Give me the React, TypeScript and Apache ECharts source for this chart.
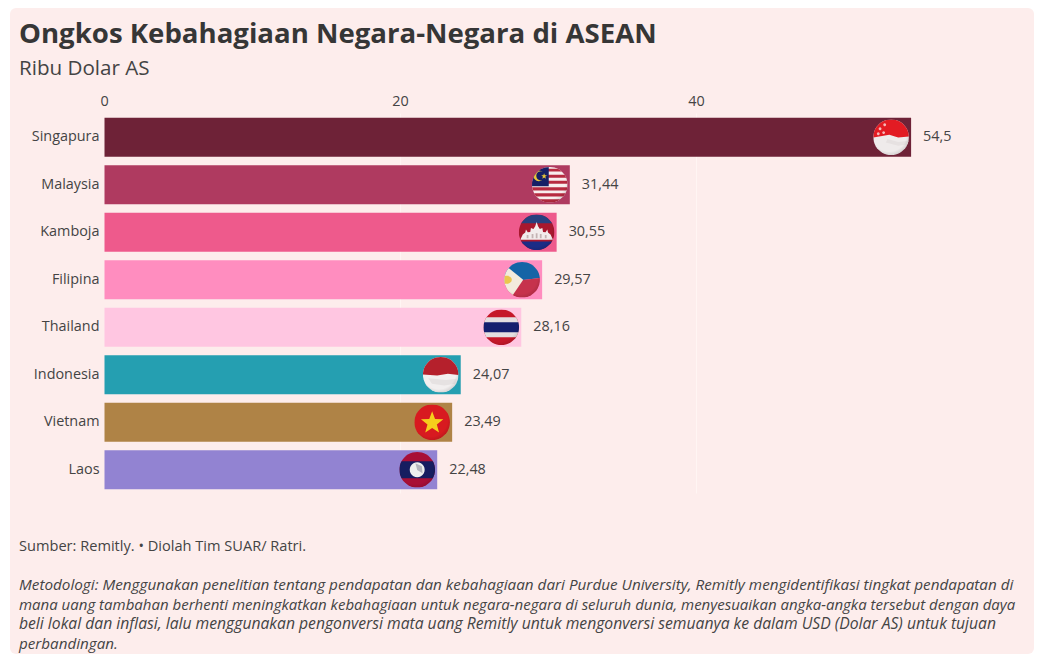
import React, { useEffect, useRef } from "react";
import * as echarts from "echarts";

const countries = ["Singapura", "Malaysia", "Kamboja", "Filipina", "Thailand", "Indonesia", "Vietnam", "Laos"];
const values = [54.5, 31.44, 30.55, 29.57, 28.16, 24.07, 23.49, 22.48];
const barColors = ["#6E2237", "#AF3A60", "#EE5A8C", "#FF8DBF", "#FFC6E1", "#259FB1", "#AF8346", "#9283D2"];
const titleText = "Ongkos Kebahagiaan Negara-Negara di ASEAN";
const subtitleText = "Ribu Dolar AS";
const sourceText = "Sumber: Remitly. • Diolah Tim SUAR/ Ratri.";
const methodLines = [
  "Metodologi: Menggunakan penelitian tentang pendapatan dan kebahagiaan dari Purdue University, Remitly mengidentifikasi tingkat pendapatan di",
  "mana uang tambahan berhenti meningkatkan kebahagiaan untuk negara-negara di seluruh dunia, menyesuaikan angka-angka tersebut dengan daya",
  "beli lokal dan inflasi, lalu menggunakan pengonversi mata uang Remitly untuk mengonversi semuanya ke dalam USD (Dolar AS) untuk tujuan",
  "perbandingan.",
];
const methodSizes = [15.28, 15.03, 15.7, 15.2];

const FONT = "'Open Sans', sans-serif";
const R = 17.8;

const rect = (x: number, y: number, w: number, h: number, fill: string) => ({
  type: "rect",
  shape: { x: x * R, y: y * R, width: w * R, height: h * R },
  style: { fill },
});
const poly = (pts: number[][], fill: string) => ({
  type: "polygon",
  shape: { points: pts.map(([a, b]) => [a * R, b * R]) },
  style: { fill },
});
const dot = (x: number, y: number, r: number, fill: string) => ({
  type: "circle",
  shape: { cx: x * R, cy: y * R, r: r * R },
  style: { fill },
});
const star = (x: number, y: number, r: number, fill: string) => {
  const pts: number[][] = [];
  for (let i = 0; i < 10; i++) {
    const a = -Math.PI / 2 + (i * Math.PI) / 5;
    const q = i % 2 === 0 ? r : r * 0.42;
    pts.push([x + q * Math.cos(a), y + q * Math.sin(a)]);
  }
  return poly(pts, fill);
};

const flags: Record<string, any[]> = {
  Singapura: [
    rect(-1, -1, 2, 2, "#EFEBEB"),
    poly([[-1, -1], [1, -1], [1, -0.04], [0.4, 0.02], [-0.1, -0.14], [-1, 0.02]], "#E31B23"),
    poly([[-0.2, 0.1], [0.4, 0.26], [1, 0.2], [1, 0.4], [0.4, 0.48], [-0.3, 0.3]], "#E6E1E1"),
    dot(-0.62, -0.48, 0.08, "#F6B8B8"),
    dot(-0.36, -0.7, 0.08, "#F6B8B8"),
    dot(-0.72, -0.2, 0.08, "#F6B8B8"),
    dot(-0.42, -0.26, 0.08, "#F6B8B8"),
  ],
  Malaysia: [
    rect(-1, -1, 2, 2, "#F8EEEE"),
    rect(-1, -0.9, 2, 0.16, "#B72A40"),
    rect(-1, -0.56, 2, 0.16, "#B72A40"),
    rect(-1, -0.22, 2, 0.16, "#B72A40"),
    rect(-1, 0.14, 2, 0.18, "#B72A40"),
    rect(-1, 0.48, 2, 0.18, "#B72A40"),
    rect(-1, 0.82, 2, 0.18, "#B72A40"),
    rect(-1, -1, 0.94, 1.08, "#161F66"),
    dot(-0.62, -0.5, 0.3, "#E8C63A"),
    dot(-0.5, -0.5, 0.26, "#161F66"),
    star(-0.32, -0.48, 0.17, "#E8C63A"),
  ],
  Kamboja: [
    rect(-1, -1, 2, 2, "#A8182E"),
    rect(-1, -1, 2, 0.5, "#28407F"),
    rect(-1, 0.52, 2, 0.48, "#1B2C86"),
    poly([[-0.92, 0.42], [-0.78, 0.12], [-0.64, 0.02], [-0.6, -0.16], [-0.5, 0.0], [-0.36, -0.02], [-0.32, -0.24], [-0.18, -0.18], [-0.08, -0.34], [0, -0.58], [0.08, -0.34], [0.18, -0.18], [0.32, -0.24], [0.36, -0.02], [0.5, 0.0], [0.6, -0.16], [0.64, 0.02], [0.78, 0.12], [0.92, 0.42]], "#F2ECEC"),
    rect(-0.56, 0.16, 0.1, 0.18, "#C4B3B3"),
    rect(-0.28, 0.1, 0.1, 0.24, "#C4B3B3"),
    rect(-0.05, 0.06, 0.1, 0.28, "#C4B3B3"),
    rect(0.18, 0.1, 0.1, 0.24, "#C4B3B3"),
    rect(0.46, 0.16, 0.1, 0.18, "#C4B3B3"),
  ],
  Filipina: [
    poly([[-1, -1], [1, -1], [1, -0.1], [-1, 0.14]], "#1564A6"),
    poly([[-1, 0.14], [1, -0.1], [1, 1], [-1, 1]], "#C6324C"),
    poly([[-1.05, -0.9], [0.06, 0.0], [-0.55, 0.9], [-1.05, 1]], "#F3EBDD"),
    dot(-0.78, 0, 0.2, "#EBC64E"),
    rect(-1, -0.22, 0.24, 0.44, "#EBC64E"),
  ],
  Thailand: [
    rect(-1, -1, 2, 2, "#C5182A"),
    rect(-1, -0.56, 2, 1.12, "#E3DEE0"),
    rect(-1, -0.28, 2, 0.56, "#141F6E"),
  ],
  Indonesia: [
    rect(-1, -1, 2, 2, "#F2EFEF"),
    poly([[-1, -1], [1, -1], [1, 0.02], [0.4, -0.06], [-0.2, 0.04], [-1, -0.02]], "#B5202C"),
    poly([[-0.7, 0.2], [0.3, 0.3], [0.9, 0.22], [0.8, 0.5], [0.2, 0.6], [-0.5, 0.5]], "#E6E2E2"),
  ],
  Vietnam: [
    rect(-1, -1, 2, 2, "#D81A20"),
    star(0, 0.04, 0.66, "#F6CE1C"),
  ],
  Laos: [
    rect(-1, -1, 2, 2, "#A80F36"),
    rect(-1, -0.48, 2, 0.96, "#161D60"),
    dot(0, 0, 0.42, "#EEF0EE"),
    poly([[-0.1, -0.36], [0.26, -0.2], [0.3, 0.2], [0, 0.02]], "#B4B6BE"),
  ],
};

const shade = {
  type: "radial" as const,
  x: 0.45,
  y: 0.42,
  r: 0.6,
  colorStops: [
    { offset: 0, color: "rgba(0,0,0,0)" },
    { offset: 0.8, color: "rgba(0,0,0,0)" },
    { offset: 1, color: "rgba(0,0,0,0.12)" },
  ],
};

export default function App() {
  const ref = useRef<HTMLDivElement>(null);
  useEffect(() => {
    const chart = echarts.init(ref.current!, null, { renderer: "svg" });
    chart.setOption({
      animation: false,
      textStyle: { fontFamily: FONT },
      title: [
        {
          text: titleText,
          left: 14,
          top: 12.5,
          textStyle: { fontFamily: FONT, fontSize: 27.6, fontWeight: 700, color: "#363636" },
        },
        {
          text: subtitleText,
          left: 14,
          top: 51,
          textStyle: { fontFamily: FONT, fontSize: 20.6, fontWeight: 400, color: "#444444" },
        },
      ],
      graphic: [
        {
          type: "rect",
          z: -10,
          shape: { x: 10, y: 8, width: 1024, height: 646, r: 6 },
          style: { fill: "#FDEDEC" },
        },
        {
          type: "text",
          x: 19,
          y: 545,
          style: { text: sourceText, font: `14.6px ${FONT}`, fill: "#444444", textVerticalAlign: "middle" },
        },
        ...methodLines.map((line, i) => ({
          type: "text",
          x: 19,
          y: 584 + i * 19.6,
          style: { text: line, font: `italic ${methodSizes[i]}px ${FONT}`, fill: "#444444", textVerticalAlign: "middle" },
        })),
      ],
      grid: { left: 104.5, top: 113.5, width: 806.6, height: 380, containLabel: false },
      xAxis: {
        type: "value",
        position: "top",
        min: 0,
        max: 54.5,
        interval: 20,
        axisLine: { show: false },
        axisTick: { show: false },
        axisLabel: { showMaxLabel: false, fontSize: 14.4, color: "#444444", margin: 6, fontFamily: FONT },
        splitLine: { show: true, showMinLine: false, showMaxLine: false, lineStyle: { color: "#FFF5F3", width: 1 } },
      },
      yAxis: {
        type: "category",
        inverse: true,
        data: countries,
        axisLine: { show: false },
        axisTick: { show: false },
        axisLabel: {
          margin: 5,
          formatter: (v: string) => `{a|${v}}`,
          rich: { a: { fontSize: 14.4, color: "#444444", fontFamily: FONT, padding: [0, 0, 3, 0] } },
        },
      },
      series: [
        {
          type: "bar",
          barCategoryGap: "17.5%",
          data: values.map((v, i) => ({ value: v, itemStyle: { color: barColors[i] } })),
          label: {
            show: true,
            position: "right",
            distance: 12,
            offset: [0, -1.5],
            fontSize: 14.4,
            color: "#444444",
            fontFamily: FONT,
            formatter: (p: any) => String(p.value).replace(".", ","),
          },
        },
        {
          type: "custom",
          z: 5,
          clip: false,
          encode: { x: 0, y: 1 },
          data: values.map((v, i) => [v, i]),
          renderItem: (_: any, api: any) => {
            const [x, y] = api.coord([api.value(0), api.value(1)]);
            const name = countries[api.value(1)];
            return {
              type: "group",
              x: x - 20,
              y,
              clipPath: { type: "circle", shape: { cx: 0, cy: 0, r: R } },
              children: [
                ...flags[name],
                { type: "circle", shape: { cx: 0, cy: 0, r: R }, style: { fill: shade } },
              ],
            };
          },
        },
      ],
    });
    return () => chart.dispose();
  }, []);
  return <div ref={ref} style={{ position: "fixed", left: 0, top: 0, width: 1045, height: 661, background: "#FFFFFF" }} />;
}
